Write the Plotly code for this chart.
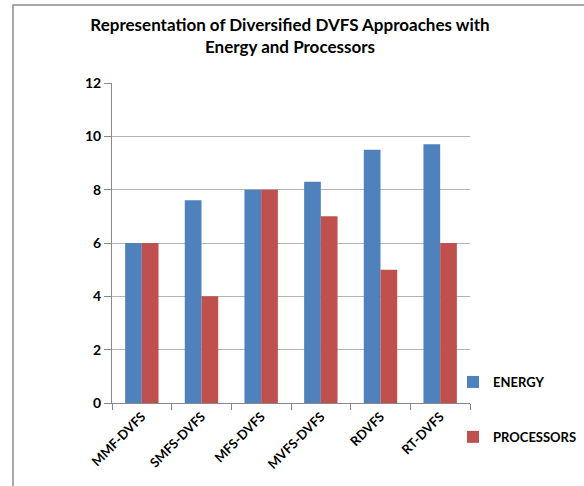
import plotly.graph_objects as go

categories = ["MMF-DVFS", "SMFS-DVFS", "MFS-DVFS", "MVFS-DVFS", "RDVFS", "RT-DVFS"]
energy = [6, 7.6, 8, 8.3, 9.5, 9.7]
processors = [6, 4, 8, 7, 5, 6]
y_ticks = [0, 2, 4, 6, 8, 10, 12]

W, H = 584, 486
L, R, T, B = 112, 114, 83, 83
pw, ph = W - L - R, H - T - B

def px_x(x):
    return (x - L) / pw

def px_y(y):
    return (H - B - y) / ph

font = "Lato, 'Open Sans', sans-serif"

fig = go.Figure()
fig.add_trace(go.Bar(x=categories, y=energy, name="ENERGY", legendgroup="e",
                     marker=dict(color="#4F81BD", line=dict(width=0))))
fig.add_trace(go.Bar(x=categories, y=processors, name="PROCESSORS", legendgroup="p",
                     marker=dict(color="#C0504D", line=dict(width=0))))

fig.update_layout(
    width=W, height=H,
    margin=dict(l=L, r=R, t=T, b=B, autoexpand=False),
    paper_bgcolor="white", plot_bgcolor="white",
    barmode="group", bargap=0.44, bargroupgap=0,
    title=dict(text="Representation of Diversified DVFS Approaches with<br>Energy and Processors",
               x=px_x(290), xref="paper", xanchor="center", y=1 - 31 / H, yanchor="middle",
               font=dict(family=font, size=17, color="black", weight="bold")),
    font=dict(family=font, size=12, color="black"),
    legend=dict(x=px_x(453), xanchor="left", y=px_y(367), yanchor="top",
                tracegroupgap=35, font=dict(family=font, size=13, color="black", weight="bold"),
                bgcolor="rgba(0,0,0,0)", itemclick=False, itemwidth=30),
    showlegend=True,
)
fig.update_xaxes(
    type="category", showline=True, linecolor="#888888", linewidth=1,
    ticks="outside", tickson="boundaries", ticklen=6, tickcolor="#888888",
    tickangle=-45, tickfont=dict(family=font, size=13, color="black", weight="bold"),
    showgrid=False,
)
fig.update_yaxes(
    range=[0, 12], tickvals=y_ticks, showline=True, linecolor="#888888", linewidth=1,
    ticks="outside", ticklen=7, tickcolor="#888888",
    tickfont=dict(family=font, size=14, color="black", weight="bold"),
    showgrid=True, gridcolor="#b3b3b3", gridwidth=1, zeroline=False,
)
fig.add_shape(type="rect", xref="paper", yref="paper",
              x0=px_x(13), x1=px_x(700), y0=px_y(600), y1=px_y(5),
              line=dict(color="#8c8c8c", width=1.5), fillcolor="rgba(0,0,0,0)", layer="below")

fig.write_html("out.html")
